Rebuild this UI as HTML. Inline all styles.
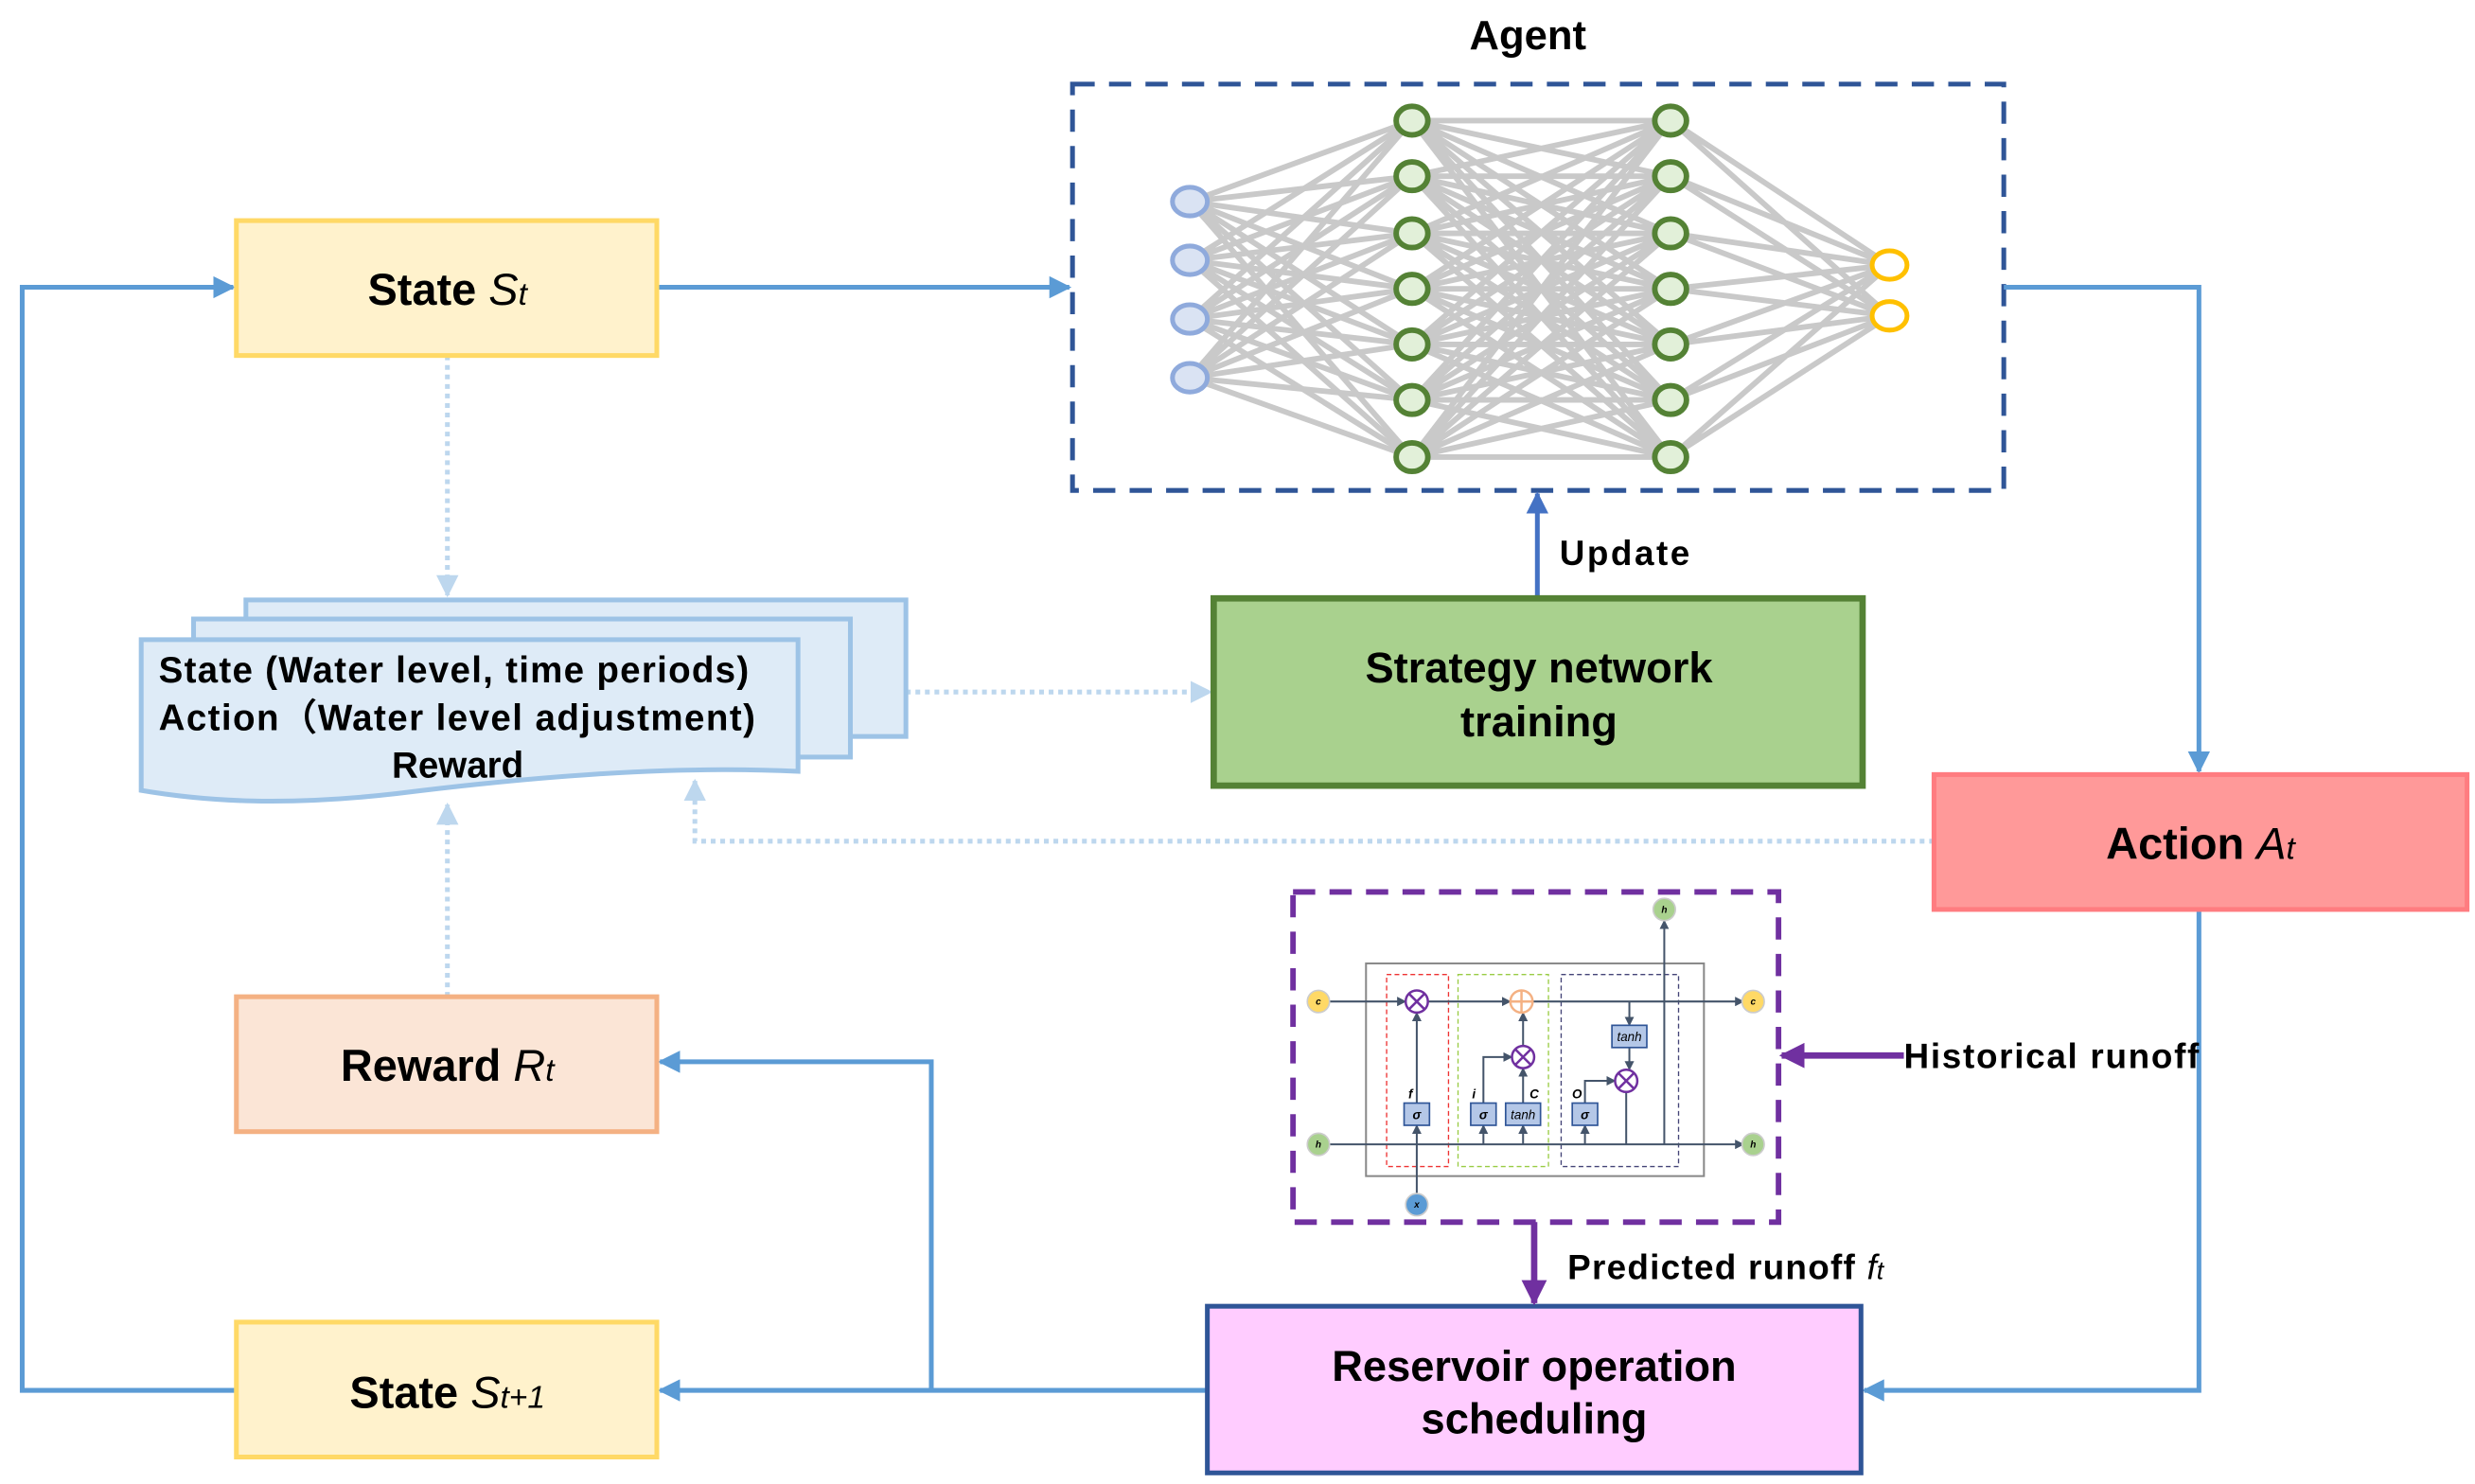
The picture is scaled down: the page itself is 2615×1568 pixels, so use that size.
<!DOCTYPE html>
<html><head><meta charset="utf-8"><style>
html,body{margin:0;padding:0;background:#fff;}
svg{display:block;}
text{font-family:"Liberation Sans",sans-serif;}
</style></head><body>
<svg width="2615" height="1568" viewBox="0 0 1560 935" preserveAspectRatio="none" xmlns="http://www.w3.org/2000/svg">
<defs>
<marker id="a1" viewBox="0 0 10 10" refX="9" refY="5" markerWidth="14" markerHeight="14" orient="auto" markerUnits="userSpaceOnUse"><path d="M0,0 L10,5 L0,10 z" fill="#5B9BD5"/></marker>
<marker id="a2" viewBox="0 0 10 10" refX="9" refY="5" markerWidth="14" markerHeight="14" orient="auto" markerUnits="userSpaceOnUse"><path d="M0,0 L10,5 L0,10 z" fill="#4472C4"/></marker>
<marker id="a3" viewBox="0 0 10 10" refX="9" refY="5" markerWidth="14" markerHeight="14" orient="auto" markerUnits="userSpaceOnUse"><path d="M0,0 L10,5 L0,10 z" fill="#BDD7EE"/></marker>
<marker id="a4" viewBox="0 0 10 10" refX="9" refY="5" markerWidth="16" markerHeight="16" orient="auto" markerUnits="userSpaceOnUse"><path d="M0,0 L10,5 L0,10 z" fill="#7030A0"/></marker>
<marker id="a5" viewBox="0 0 10 10" refX="9" refY="5" markerWidth="6" markerHeight="6" orient="auto" markerUnits="userSpaceOnUse"><path d="M0,0 L10,5 L0,10 z" fill="#44546A"/></marker>
</defs>

<text x="963" y="31" font-size="26" font-weight="bold" text-anchor="middle">Agent</text>

<g stroke="#C9C9C9" stroke-width="3.5">
<path d="M750,127L890,76M750,127L890,111M750,127L890,147M750,127L890,182M750,127L890,217M750,127L890,252M750,127L890,288"/>
<path d="M750,164L890,76M750,164L890,111M750,164L890,147M750,164L890,182M750,164L890,217M750,164L890,252M750,164L890,288"/>
<path d="M750,201L890,76M750,201L890,111M750,201L890,147M750,201L890,182M750,201L890,217M750,201L890,252M750,201L890,288"/>
<path d="M750,238L890,76M750,238L890,111M750,238L890,147M750,238L890,182M750,238L890,217M750,238L890,252M750,238L890,288"/>
<path d="M890,76L1053,76M890,76L1053,111M890,76L1053,147M890,76L1053,182M890,76L1053,217M890,76L1053,252M890,76L1053,288
M890,111L1053,76M890,111L1053,111M890,111L1053,147M890,111L1053,182M890,111L1053,217M890,111L1053,252M890,111L1053,288
M890,147L1053,76M890,147L1053,111M890,147L1053,147M890,147L1053,182M890,147L1053,217M890,147L1053,252M890,147L1053,288
M890,182L1053,76M890,182L1053,111M890,182L1053,147M890,182L1053,182M890,182L1053,217M890,182L1053,252M890,182L1053,288
M890,217L1053,76M890,217L1053,111M890,217L1053,147M890,217L1053,182M890,217L1053,217M890,217L1053,252M890,217L1053,288
M890,252L1053,76M890,252L1053,111M890,252L1053,147M890,252L1053,182M890,252L1053,217M890,252L1053,252M890,252L1053,288
M890,288L1053,76M890,288L1053,111M890,288L1053,147M890,288L1053,182M890,288L1053,217M890,288L1053,252M890,288L1053,288"/>
<path d="M1053,76L1191,167M1053,111L1191,167M1053,147L1191,167M1053,182L1191,167M1053,217L1191,167M1053,252L1191,167M1053,288L1191,167
M1053,76L1191,199M1053,111L1191,199M1053,147L1191,199M1053,182L1191,199M1053,217L1191,199M1053,252L1191,199M1053,288L1191,199"/>
</g>
<g stroke="#8FAADC" stroke-width="3" fill="#DAE3F3">
<ellipse cx="750" cy="127" rx="11" ry="9"/><ellipse cx="750" cy="164" rx="11" ry="9"/><ellipse cx="750" cy="201" rx="11" ry="9"/><ellipse cx="750" cy="238" rx="11" ry="9"/>
</g>
<g stroke="#548235" stroke-width="3.5" fill="#E2F0D9">
<ellipse cx="890" cy="76" rx="10" ry="9"/><ellipse cx="890" cy="111" rx="10" ry="9"/><ellipse cx="890" cy="147" rx="10" ry="9"/><ellipse cx="890" cy="182" rx="10" ry="9"/><ellipse cx="890" cy="217" rx="10" ry="9"/><ellipse cx="890" cy="252" rx="10" ry="9"/><ellipse cx="890" cy="288" rx="10" ry="9"/>
<ellipse cx="1053" cy="76" rx="10" ry="9"/><ellipse cx="1053" cy="111" rx="10" ry="9"/><ellipse cx="1053" cy="147" rx="10" ry="9"/><ellipse cx="1053" cy="182" rx="10" ry="9"/><ellipse cx="1053" cy="217" rx="10" ry="9"/><ellipse cx="1053" cy="252" rx="10" ry="9"/><ellipse cx="1053" cy="288" rx="10" ry="9"/>
</g>
<g stroke="#FFC000" stroke-width="3" fill="#fff">
<ellipse cx="1191" cy="167" rx="11" ry="9"/><ellipse cx="1191" cy="199" rx="11" ry="9"/>
</g>
<rect x="676" y="53" width="587" height="256" fill="none" stroke="#2F5597" stroke-width="3" stroke-dasharray="14,9"/>

<g stroke="#5B9BD5" stroke-width="3" fill="none">
<path d="M414,181 L674,181" marker-end="url(#a1)"/>
<path d="M1263,181 L1386,181 L1386,486" marker-end="url(#a1)"/>
<path d="M1386,573 L1386,876 L1175,876" marker-end="url(#a1)"/>
<path d="M761,876 L416,876" marker-end="url(#a1)"/>
<path d="M587,876 L587,669 L416,669" marker-end="url(#a1)"/>
<path d="M149,876 L14,876 L14,181 L147,181" marker-end="url(#a1)"/>
</g>
<path d="M969,377 L969,311" stroke="#4472C4" stroke-width="3" marker-end="url(#a2)"/>
<text x="983" y="356" font-size="22" font-weight="bold" textLength="82">Update</text>

<g stroke="#BDD7EE" stroke-width="3" fill="none" stroke-dasharray="3,3">
<path d="M282,224 L282,375" marker-end="url(#a3)"/>
<path d="M282,628 L282,507" marker-end="url(#a3)"/>
<path d="M1219,530 L438,530 L438,492" marker-end="url(#a3)"/>
<path d="M571,436 L763,436" marker-end="url(#a3)"/>
</g>

<rect x="149" y="139" width="265" height="85" fill="#FFF2CC" stroke="#FFD966" stroke-width="3"/>
<text x="282" y="192" font-size="28" font-weight="bold" text-anchor="middle">State <tspan font-style="italic" font-weight="normal">S<tspan font-size="20">t</tspan></tspan></text>
<rect x="149" y="628" width="265" height="85" fill="#FBE5D6" stroke="#F4B183" stroke-width="3"/>
<text x="282" y="681" font-size="28" font-weight="bold" text-anchor="middle">Reward <tspan font-style="italic" font-weight="normal">R<tspan font-size="20">t</tspan></tspan></text>
<rect x="149" y="833" width="265" height="85" fill="#FFF2CC" stroke="#FFD966" stroke-width="3"/>
<text x="282" y="887" font-size="28" font-weight="bold" text-anchor="middle">State <tspan font-style="italic" font-weight="normal">S<tspan font-size="20">t+1</tspan></tspan></text>
<rect x="1219" y="488" width="336" height="85" fill="#FF9999" stroke="#FF7C80" stroke-width="3"/>
<text x="1387" y="541" font-size="28" font-weight="bold" text-anchor="middle">Action <tspan font-style="italic" font-weight="normal">A<tspan font-size="20">t</tspan></tspan></text>
<rect x="765" y="377" width="409" height="118" fill="#A9D18E" stroke="#548235" stroke-width="4"/>
<text x="970" y="430" font-size="27" font-weight="bold" text-anchor="middle">Strategy network</text>
<text x="970" y="464" font-size="27" font-weight="bold" text-anchor="middle">training</text>
<rect x="761" y="823" width="412" height="105" fill="#FFCCFF" stroke="#2F5597" stroke-width="3"/>
<text x="967" y="870" font-size="27" font-weight="bold" text-anchor="middle">Reservoir operation</text>
<text x="967" y="903" font-size="27" font-weight="bold" text-anchor="middle">scheduling</text>

<g fill="#DEEBF7" stroke="#9DC3E6" stroke-width="3">
<rect x="155" y="378" width="416" height="86"/>
<rect x="122" y="390" width="414" height="87"/>
<path d="M89,403 L503,403 L503,486 C420,482 330,490 250,500 C180,508 130,505 89,498 Z"/>
</g>
<text x="100" y="430" font-size="23" font-weight="bold" textLength="372">State (Water level, time periods)</text>
<text x="100" y="460" font-size="23" font-weight="bold" textLength="376">Action（Water level adjustment)</text>
<text x="247" y="490" font-size="23" font-weight="bold" textLength="83">Reward</text>

<rect x="815" y="562" width="306" height="208" fill="none" stroke="#7030A0" stroke-width="3.5" stroke-dasharray="14,9"/>
<path d="M1200,665 L1123,665" stroke="#7030A0" stroke-width="4" marker-end="url(#a4)"/>
<text x="1200" y="673" font-size="22" font-weight="bold" textLength="186">Historical runoff</text>
<path d="M967,770 L967,821" stroke="#7030A0" stroke-width="4" marker-end="url(#a4)"/>
<text x="988" y="806" font-size="22" font-weight="bold"><tspan textLength="188">Predicted runoff </tspan><tspan font-style="italic" font-weight="normal">f<tspan font-size="16">t</tspan></tspan></text>

<rect x="861" y="607" width="213" height="134" fill="none" stroke="#888" stroke-width="1.2"/>
<rect x="874" y="614" width="39" height="121" fill="none" stroke="#E33" stroke-width="0.8" stroke-dasharray="3,2"/>
<rect x="919" y="614" width="57" height="121" fill="none" stroke="#9C4" stroke-width="0.8" stroke-dasharray="3,2"/>
<rect x="984" y="614" width="74" height="121" fill="none" stroke="#447" stroke-width="0.8" stroke-dasharray="3,2"/>
<g stroke="#44546A" stroke-width="1.2" fill="none">
<path d="M837,631 L886,631" marker-end="url(#a5)"/>
<path d="M900,631 L952,631" marker-end="url(#a5)"/>
<path d="M966,631 L1099,631" marker-end="url(#a5)"/>
<path d="M837,721 L1099,721" marker-end="url(#a5)"/>
<path d="M893,753 L893,709" marker-end="url(#a5)"/>
<path d="M893,695 L893,638" marker-end="url(#a5)"/>
<path d="M935,721 L935,709" marker-end="url(#a5)"/>
<path d="M960,721 L960,709" marker-end="url(#a5)"/>
<path d="M999,721 L999,709" marker-end="url(#a5)"/>
<path d="M935,695 L935,666 L953,666" marker-end="url(#a5)"/>
<path d="M960,695 L960,673" marker-end="url(#a5)"/>
<path d="M960,659 L960,638" marker-end="url(#a5)"/>
<path d="M1027,631 L1027,646" marker-end="url(#a5)"/>
<path d="M1027,660 L1027,674" marker-end="url(#a5)"/>
<path d="M999,695 L999,681 L1018,681" marker-end="url(#a5)"/>
<path d="M1025,688 L1025,721"/>
<path d="M1049,721 L1049,580" marker-end="url(#a5)"/>
</g>
<g stroke="#2F5597" stroke-width="1" fill="#B4C7E7">
<rect x="885" y="695" width="16" height="14"/><rect x="927" y="695" width="16" height="14"/><rect x="949" y="695" width="22" height="14"/><rect x="991" y="695" width="16" height="14"/><rect x="1016" y="646" width="22" height="14"/>
</g>
<g font-family="Liberation Serif,serif" font-style="italic" font-size="8" text-anchor="middle" font-weight="bold">
<text x="893" y="705">σ</text><text x="935" y="705">σ</text><text x="960" y="705" font-weight="normal">tanh</text><text x="999" y="705">σ</text><text x="1027" y="656" font-weight="normal">tanh</text>
<text x="889" y="692">f</text><text x="929" y="692">i</text><text x="967" y="692">C</text><text x="994" y="692">O</text>
</g>
<g stroke="#7030A0" stroke-width="1.5" fill="#fff">
<circle cx="893" cy="631" r="7"/><circle cx="960" cy="666" r="7"/><circle cx="1025" cy="681" r="7"/>
<path d="M888,626L898,636M898,626L888,636M955,661L965,671M965,661L955,671M1020,676L1030,686M1030,676L1020,686"/>
</g>
<circle cx="959" cy="631" r="7" fill="#fff" stroke="#F4B183" stroke-width="1.5"/>
<path d="M952,631L966,631M959,624L959,638" stroke="#F4B183" stroke-width="1.5"/>
<g stroke="#ccc" stroke-width="1">
<circle cx="831" cy="631" r="7" fill="#FFD966"/><circle cx="1105" cy="631" r="7" fill="#FFD966"/>
<circle cx="831" cy="721" r="7" fill="#A9D18E"/><circle cx="1105" cy="721" r="7" fill="#A9D18E"/><circle cx="1049" cy="573" r="7" fill="#A9D18E"/>
<circle cx="893" cy="759" r="7" fill="#5B9BD5"/>
</g>
<g font-family="Liberation Serif,serif" font-style="italic" font-weight="bold" font-size="6" text-anchor="middle">
<text x="831" y="633">c</text><text x="1105" y="633">c</text><text x="831" y="723">h</text><text x="1105" y="723">h</text><text x="1049" y="575">h</text><text x="893" y="761">x</text>
</g>
</svg>
</body></html>
